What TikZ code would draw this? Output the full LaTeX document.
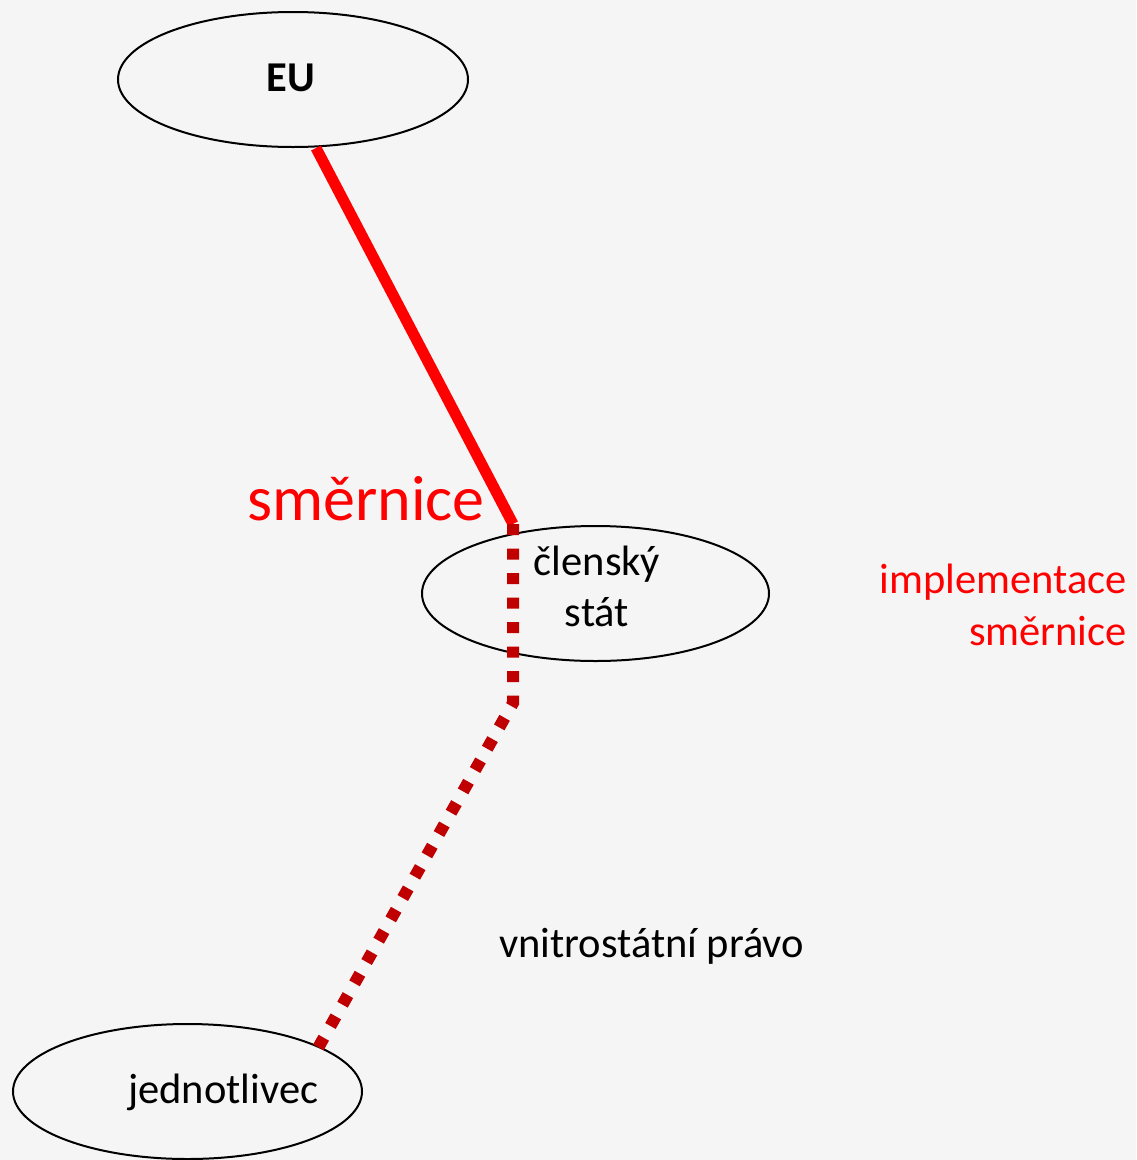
\documentclass[tikz,border=0pt]{standalone}
\usepackage{fontspec}
\setmainfont{Carlito}
\usetikzlibrary{shapes.geometric}
\definecolor{bg}{HTML}{F5F5F5}
\definecolor{darkred}{HTML}{C00000}
\begin{document}
\begin{tikzpicture}[x=1pt,y=-1pt,
  oval/.style={draw=black, line width=2pt, ellipse, inner sep=0pt, minimum width=350pt, minimum height=135pt},
  lbl/.style={font=\fontsize{42.5}{51}\selectfont, inner sep=0pt},
  redlbl/.style={lbl, text=red},
  solidlink/.style={draw=red, line width=11pt, line cap=butt},
  dotlink/.style={draw=darkred, line width=12pt, line cap=butt, line join=miter, dash pattern=on 11pt off 13.5pt}]
\fill[bg] (0,0) rectangle (1136,1160);
\useasboundingbox (0,0) rectangle (1136,1160);
% ellipses
\node[oval] (eu) at (293,79.5) {};
\node[oval, minimum width=347pt] (cs) at (595.5,593.5) {};
\node[oval, minimum width=349pt] (jd) at (187.5,1091.5) {};
% texts
\node[lbl, font=\fontsize{42.5}{51}\selectfont\bfseries, anchor=base] (eut) at (291,91) {EU};
\node[lbl, anchor=base, align=center] (cst) at (597,626) {členský\\stát};
\node[lbl, anchor=base west] (jdt) at (128,1103) {jednotlivec};
\node[redlbl, font=\fontsize{64}{76}\selectfont, anchor=base east] (sm) at (485,520) {směrnice};
\node[redlbl, anchor=base east, align=right] (impl) at (1127,645) {implementace\\[1pt]směrnice};
\node[lbl, anchor=base west] (vp) at (499,957) {vnitrostátní právo};
% connectors
\coordinate (a) at (316,148);
\coordinate (b) at (513,524);
\coordinate (c) at (513,703);
\coordinate (d) at (318,1048);
\draw[solidlink] (a) -- (b);
\draw[dotlink] (b) -- (c) -- (d);
\end{tikzpicture}
\end{document}
